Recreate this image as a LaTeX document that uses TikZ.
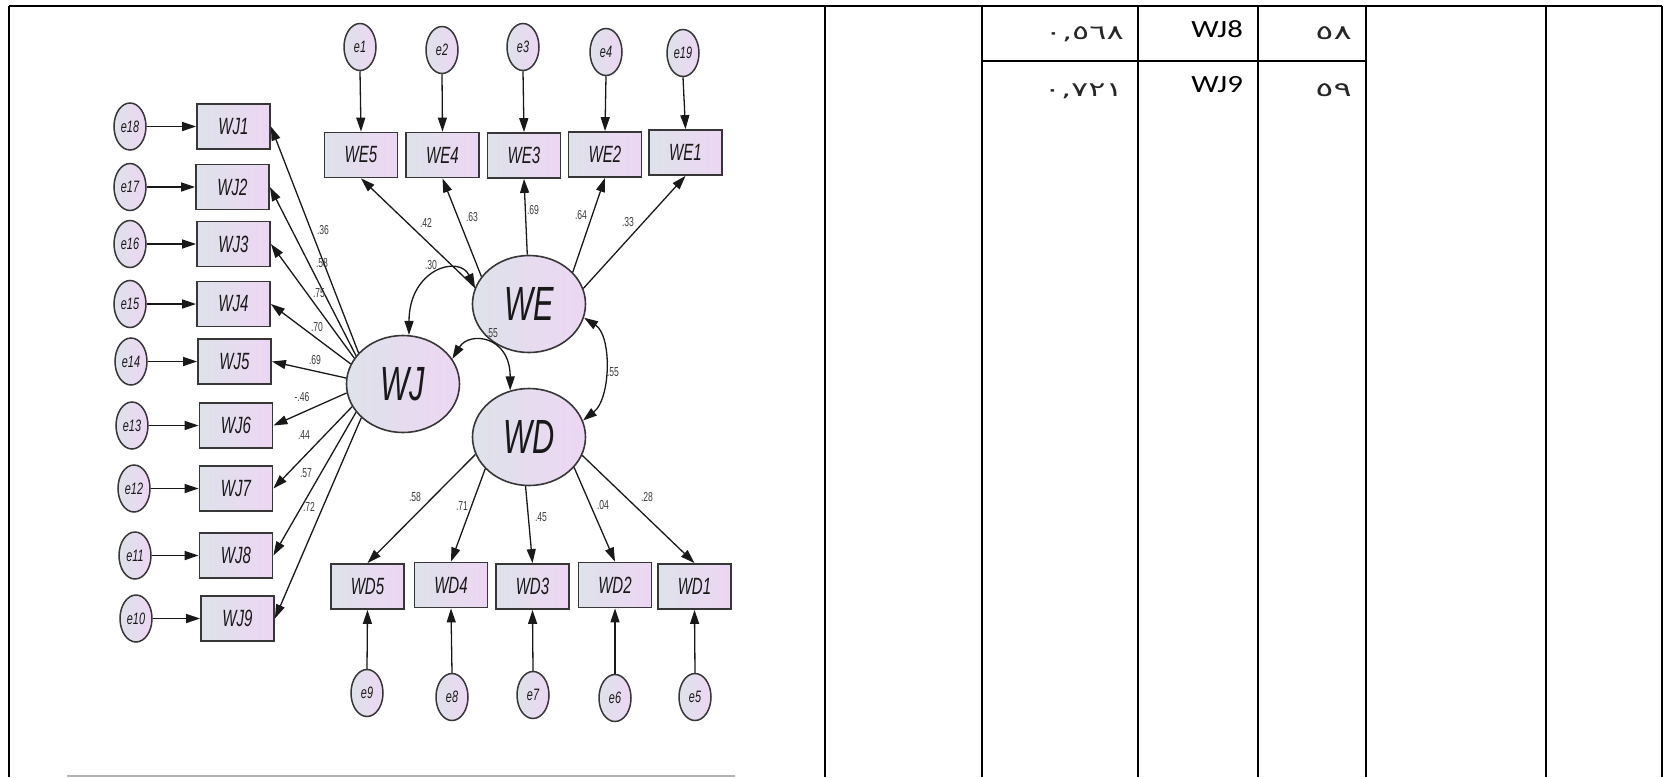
\documentclass[tikz,border=0pt]{standalone}
\usepackage{fontspec}
\setmainfont{Liberation Sans}
\newfontfamily\tabfont{Carlito}
\newfontfamily\arabicfont[Script=Arabic]{DejaVu Sans}
\usetikzlibrary{arrows.meta,shapes.geometric}

\definecolor{boxL}{RGB}{222,226,234}
\definecolor{boxR}{RGB}{237,214,243}
\definecolor{edge}{RGB}{55,55,55}
\definecolor{ink}{RGB}{25,25,25}

% condensed italic labels of the path diagram
\newcommand\narrowtxt[2][0.64]{\scalebox{#1}[1]{#2}}

\tikzset{
  obs/.style={rectangle, draw=edge, line width=1.8pt, left color=boxL, right color=boxR,
    minimum width=73pt, minimum height=45pt, inner sep=0pt, text=ink,
    font=\fontsize{23.5}{23.5}\selectfont\itshape},
  lat/.style={ellipse, draw=edge, line width=1.6pt, left color=boxL, right color=boxR,
    minimum width=113pt, minimum height=97pt, inner sep=0pt, text=ink,
    font=\fontsize{48}{48}\selectfont\itshape},
  err/.style={ellipse, draw=edge, line width=1.5pt, left color=boxL, right color=boxR,
    minimum width=32pt, minimum height=47pt, inner sep=0pt, text=ink,
    font=\fontsize{16.5}{16.5}\selectfont\itshape},
  coef/.style={inner sep=0pt, text=ink!85, font=\fontsize{13}{13}\selectfont},
  path/.style={draw=ink, line width=1.3pt, -{Triangle[length=14pt,width=9pt]}},
  epath/.style={path, line width=1.6pt},
  cov/.style={draw=ink, line width=1.3pt,
    {Triangle[length=14pt,width=9pt]}-{Triangle[length=14pt,width=9pt]}},
  rule/.style={draw=black, line width=2pt},
  cellen/.style={anchor=base east, inner sep=0pt, font=\tabfont\fontsize{24.8}{24.8}\selectfont},
  cellar/.style={anchor=base east, inner sep=0pt, text=black!85,
    font=\arabicfont\fontsize{20}{20}\selectfont},
}

\begin{document}
\begin{tikzpicture}[x=1pt, y=-1pt]
\useasboundingbox (0,0) rectangle (1666,777);

% ---------- table rules ----------
\draw[rule] (9,6) -- (1662,6);
\foreach \xx in {9,825,982,1138,1258,1366,1546,1662}
  \draw[rule] (\xx,6) -- (\xx,777);
\draw[rule] (982,61) -- (1366,61);
\draw[draw=black!30, line width=2pt] (67,776) -- (735,776);

% ---------- table cells ----------
\node[cellen] (c8) at (1243,37) {\scalebox{1.24}[1]{WJ8}};
\node[cellen] (c9) at (1243,92.5) {\scalebox{1.24}[1]{WJ9}};
\node[cellar] (v8) at (1124,39) {\scalebox{1.6}[1]{٠,٥٦٨}};
\node[cellar] (v9) at (1123,96) {\scalebox{1.6}[1]{٠,٧٢١}};
\node[cellar] (n8) at (1352,39) {\scalebox{1.7}[1]{٥٨}};
\node[cellar] (n9) at (1352,96) {\scalebox{1.7}[1]{٥٩}};

% ---------- latent variables ----------
\node[lat] (WE) at (529,304) {\narrowtxt{WE}};
\node[lat] (WJ) at (403,384) {\narrowtxt{WJ}};
\node[lat] (WD) at (529,437) {\narrowtxt{WD}};

% ---------- WJ indicators and their errors ----------
\foreach \i/\xb/\yb/\e/\xe in {1/233.5/126.5/18/130, 2/232.5/187/17/130, 3/233.5/244/16/130,
    4/233.5/304/15/130, 5/234.5/361.5/14/131, 6/236/425.5/13/132, 7/236/488.5/12/134,
    8/236/555.5/11/135, 9/237.5/618.5/10/136}{
  \node[obs] (WJ\i) at (\xb,\yb) {\narrowtxt{WJ\i}};
  \node[err] (e\e) at (\xe,\yb) {\narrowtxt[0.66]{e\e}};
  \draw[epath] (e\e) -- (WJ\i);
}

% ---------- WE indicators and their errors ----------
\foreach \i/\xb/\yb/\e/\xe/\ye in {5/361/155/1/360/47, 4/442.5/155/2/442/50, 3/524/155.5/3/523/47,
    2/605/154.5/4/606/52, 1/685.5/152.5/19/683/53}{
  \node[obs] (WE\i) at (\xb,\yb) {\narrowtxt{WE\i}};
  \node[err] (e\e) at (\xe,\ye) {\narrowtxt[0.66]{e\e}};
  \draw[path] (e\e.south) -- (WE\i.north);
}

% ---------- WD indicators and their errors ----------
\foreach \i/\xb/\yb/\e/\xe/\ye in {5/367.5/586.5/9/367/693, 4/451/585/8/452/697, 3/532.5/586.5/7/533/695,
    2/615/585/6/615/698, 1/694.5/586.5/5/695/697}{
  \node[obs] (WD\i) at (\xb,\yb) {\narrowtxt{WD\i}};
  \node[err] (e\e) at (\xe,\ye) {\narrowtxt[0.66]{e\e}};
  \draw[path] (e\e.north) -- (WD\i.south);
}

% ---------- loadings ----------
\foreach \a/\i in {145/1,149/2,152/3,159/4,174/5,189/6,204/7,211/8,219/9}
  \draw[path] (WJ.\a) -- (WJ\i.east);
\foreach \a/\i in {163/5,150/4,92/3,36/2,16/1}
  \draw[path] (WE.\a) -- (WE\i.south);
\foreach \a/\i in {198/5,216/4,266/3,326/2,341/1}
  \draw[path] (WD.\a) -- (WD\i.north);

% ---------- covariances ----------
\draw[cov] (WJ.83) .. controls +(0,-66) and +(-16,-33) .. (WE.163);
\draw[cov] (WJ.27) .. controls +(17,-28) and +(0,-55) .. (WD.112);
\draw[cov] (WE.346) .. controls +(28,18) and +(28,-22) .. (WD.17);

% ---------- estimates ----------
\foreach \t/\xx/\yy [count=\k] in {.36/323/230, .58/322/263, .75/319/293, .70/317/327, .69/315/360,
    -.46/302/397, .44/304/435, .57/306/473, .72/309/507,
    .42/426/223, .63/472/217, .69/533/210, .64/581/215, .33/628/222,
    .30/431/265, .55/492/333, .55/613/372,
    .58/415/497, .71/462/506, .45/541/517, .04/603/505, .28/647/497}
  \node[coef] (est\k) at (\xx,\yy) {\narrowtxt[0.66]{\t}};
\end{tikzpicture}
\end{document}
